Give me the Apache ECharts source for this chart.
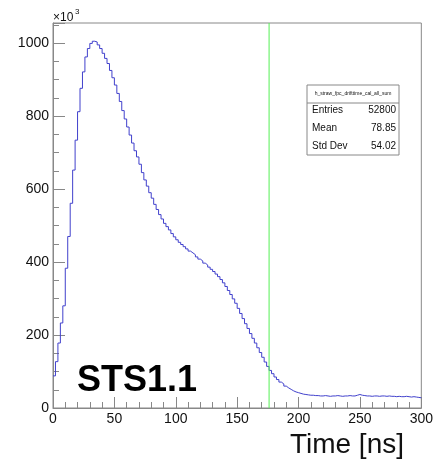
<!DOCTYPE html>
<html>
<head>
<meta charset="utf-8">
<script src="https://cdn.jsdelivr.net/npm/echarts@6/dist/echarts.min.js"></script>
<style>html,body{margin:0;padding:0;background:#fff;}#c{width:436px;height:459px;}</style>
</head>
<body>
<div id="c"></div>
<script>
// Histogram: 150 bins of 2 ns from 0 to 300 ns, counts in units of 10^3
const xMin = 0, xMax = 300, binWidth = 2;
const yMin = 0, yMax = 1055;
const counts = [
  88,127,178,233,280,383,470,561,652,734,812,876,921,962,985,999,1005,1003,
  995,985,972,958,944,925,905,885,862,840,815,792,770,748,726,705,688,668,
  645,625,608,590,575,558,544,530,518,506,497,488,478,469,461,454,448,442,
  436,430,425,420,414,408,403,397,392,386,380,374,367,360,352,343,333,322,
  311,299,287,273,259,245,231,218,204,191,178,165,152,139,126,114,103,94,
  85,78,71,66,60,55,51,47,44,42,40,38,37,36,35,35,34,34,
  33,33,34,33,32,33,33,34,33,32,33,33,34,33,33,35,37,35,
  34,33,33,32,33,33,32,33,33,32,33,32,32,31,32,31,31,32,
  31,30,31,30,29,28
];
const cutValue = 176;            // green vertical line [ns]
const xTicks = [0, 50, 100, 150, 200, 250, 300];
const yTicks = [0, 200, 400, 600, 800, 1000];
const statsTitle = "h_straw_fpc_drifttime_cal_all_sum";
const statsLabels = ["Entries", "Mean", "Std Dev"];
const statsValues = ["52800", "78.85", "54.02"];
const labelText = "STS1.1";
const xTitle = "Time [ns]";

const histData = counts.map((v, i) => [xMin + i * binWidth, v]);
histData.push([xMax, counts[counts.length - 1]]);
const cutData = [[cutValue, yMin], [cutValue, yMax]];

const chart = echarts.init(document.getElementById('c'), null, {renderer: 'canvas'});
const txt = '#111';
const frame = '#888';
const font = 'Liberation Sans, Arial, sans-serif';

const statsGraphics = [];
const bx = 307, by = 85, bw = 92, bh = 70, sepY = 103;
statsGraphics.push({type: 'rect', shape: {x: bx, y: by, width: bw, height: bh}, style: {fill: '#fff', stroke: frame, lineWidth: 1}, z: 100});
statsGraphics.push({type: 'line', shape: {x1: bx, y1: sepY, x2: bx + bw, y2: sepY}, style: {stroke: frame, lineWidth: 1}, z: 101});
statsGraphics.push({type: 'text', x: bx + bw / 2, y: (by + sepY) / 2, style: {text: statsTitle, fontSize: 5, fill: txt, align: 'center', verticalAlign: 'middle', fontFamily: font}, z: 101});
const rowY = [110, 128, 146];
statsLabels.forEach((l, i) => {
  statsGraphics.push({type: 'text', x: bx + 5, y: rowY[i], style: {text: l, fontSize: 10, fill: txt, align: 'left', verticalAlign: 'middle', fontFamily: font}, z: 101});
  statsGraphics.push({type: 'text', x: bx + bw - 3, y: rowY[i], style: {text: statsValues[i], fontSize: 10, fill: txt, align: 'right', verticalAlign: 'middle', fontFamily: font}, z: 101});
});

chart.setOption({
  animation: false,
  backgroundColor: '#fff',
  grid: {left: 53, right: 14, top: 23, bottom: 51, show: true, borderColor: frame, borderWidth: 1, containLabel: false},
  xAxis: {
    type: 'value', min: xMin, max: xMax, interval: 50,
    axisLine: {show: true, lineStyle: {color: frame}},
    axisTick: {show: true, inside: true, length: 11, lineStyle: {color: frame}},
    minorTick: {show: true, splitNumber: 5, length: 6, lineStyle: {color: frame}},
    splitLine: {show: false},
    axisLabel: {color: txt, fontSize: 14, fontFamily: font, margin: 4,
      formatter: v => xTicks.indexOf(v) >= 0 ? String(v) : ''}
  },
  yAxis: {
    type: 'value', min: yMin, max: yMax, interval: 200,
    axisLine: {show: true, lineStyle: {color: frame}},
    axisTick: {show: true, inside: true, length: 12, lineStyle: {color: frame}},
    minorTick: {show: true, splitNumber: 4, length: 6, lineStyle: {color: frame}},
    splitLine: {show: false},
    axisLabel: {color: txt, fontSize: 14, fontFamily: font, margin: 4, showMaxLabel: false,
      formatter: v => yTicks.indexOf(v) >= 0 ? String(v) : ''}
  },
  series: [
    {
      type: 'line', step: 'end', symbol: 'none', data: histData, z: 3,
      lineStyle: {color: '#4040cc', width: 1}, silent: true
    },
    {
      type: 'line', symbol: 'none', data: cutData, z: 4, silent: true,
      lineStyle: {color: '#55f055', width: 1}
    }
  ],
  graphic: [
    {type: 'text', x: 53, y: 18, style: {text: '×10', fontSize: 12, fill: txt, align: 'left', verticalAlign: 'middle', fontFamily: font}},
    {type: 'text', x: 75, y: 12, style: {text: '3', fontSize: 8, fill: txt, align: 'left', verticalAlign: 'middle', fontFamily: font}},
    {type: 'text', x: 404, y: 445, style: {text: xTitle, fontSize: 28, fill: txt, align: 'right', verticalAlign: 'middle', fontFamily: font}},
    {type: 'text', x: 77, y: 381, style: {text: labelText, fontSize: 36, fontWeight: 'bold', fill: '#000', align: 'left', verticalAlign: 'middle', fontFamily: font}, z: 50}
  ].concat(statsGraphics)
});
</script>
</body>
</html>
